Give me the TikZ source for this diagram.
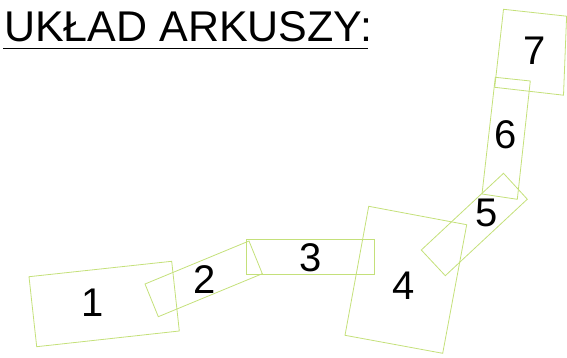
\documentclass[tikz,border=0pt]{standalone}
\usepackage{fontspec}
\setmainfont{Liberation Sans}
\definecolor{sheet}{RGB}{196,224,122}
\begin{document}
\begin{tikzpicture}[x=1pt,y=-1pt,
  sheetline/.style={draw=sheet,line width=0.8pt,line join=miter},
  num/.style={anchor=base,inner sep=0pt,font=\fontsize{40}{40}\selectfont}]
\useasboundingbox (0,0) rectangle (567,358);
% sheets
\draw[sheetline] (29,276.7) -- (171.7,261.3) -- (179.3,331) -- (36.7,346.7) -- cycle;
\draw[sheetline] (145,284) -- (249,241) -- (262.3,273.7) -- (158.3,316.7) -- cycle;
\draw[sheetline] (246.3,239.3) -- (374.3,239.3) -- (374.3,274.3) -- (246.3,274.3) -- cycle;
\draw[sheetline] (368.7,206.3) -- (466.7,224.7) -- (442.7,353.3) -- (345,335.3) -- cycle;
\draw[sheetline] (421.3,250) -- (503.5,173.3) -- (527.3,199.2) -- (445.3,275.7) -- cycle;
\draw[sheetline] (495.3,77.3) -- (530.3,81) -- (517.3,199.3) -- (482,194) -- cycle;
\draw[sheetline] (503.5,9.3) -- (566.6,16.2) -- (563.5,95.2) -- (494.7,87.3) -- cycle;
% labels
\node[num] (n1) at (93,316) {1};
\node[num] (n2) at (205,293.3) {2};
\node[num] (n3) at (310.7,271.7) {3};
\node[num] (n4) at (404,299) {4};
\node[num] (n5) at (486.7,226.7) {5};
\node[num] (n6) at (506,149) {6};
\node[num] (n7) at (534.3,65) {7};
% title
\node[anchor=base west,inner sep=0pt,font=\fontsize{43}{43}\selectfont] (title) at (4,41.7) {UKŁAD ARKUSZY:};
\draw[line width=1pt] (3,48.3) coordinate (ul1) -- (368,48.3) coordinate (ul2);
\end{tikzpicture}
\end{document}
